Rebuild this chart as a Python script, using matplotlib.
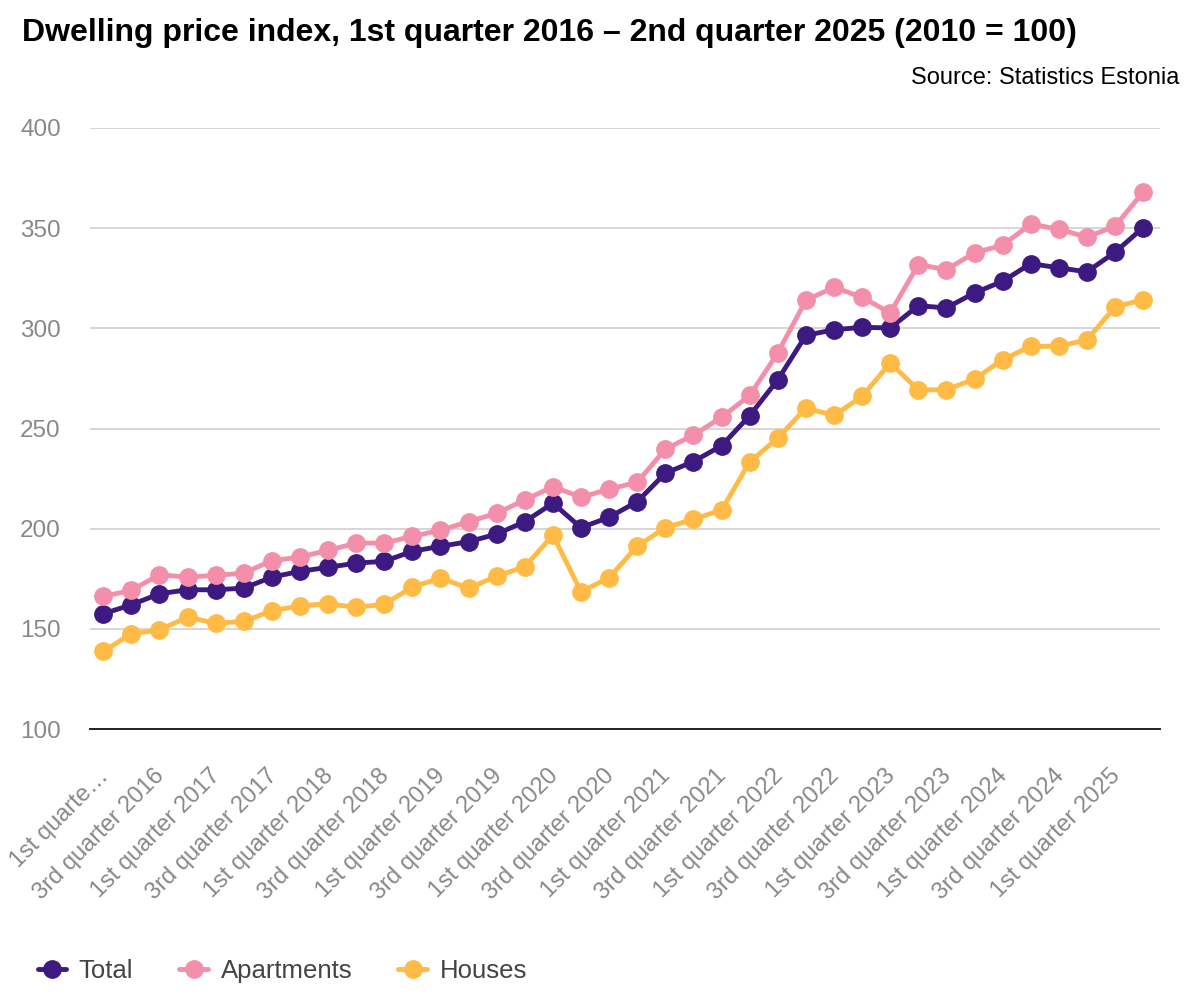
import matplotlib.pyplot as plt
import matplotlib.transforms as mtransforms
import numpy as np

plt.rcParams['font.family'] = ['Liberation Sans', 'DejaVu Sans']

ordinals = ["1st", "2nd", "3rd", "4th"]
quarters = [f"{o} quarter {y}" for y in range(2016, 2026) for o in ordinals][:38]

total = [157.5, 162, 167.5, 169.5, 169.5, 170.3, 175.8, 178.7, 180.7, 182.8,
         183.7, 188.7, 191.2, 193.5, 197.3, 203.5, 212.7, 200.5, 205.7, 213.5,
         227.7, 233.5, 241.4, 256.4, 274.3, 296.5, 299.3, 300.5, 300.2, 311.3,
         310.2, 317.7, 323.5, 332.3, 330.2, 328.2, 338, 350.3]
apartments = [166.2, 169.2, 177, 175.8, 176.7, 177.8, 184, 185.8, 189.2, 192.8,
              192.8, 196.2, 199.2, 203.5, 207.7, 214.3, 221, 215.7, 219.7, 223.2,
              239.7, 246.7, 255.6, 266.5, 287.7, 314, 320.5, 315.5, 307.7, 331.8,
              329.3, 337.7, 341.5, 352, 349.5, 345.5, 351, 368]
houses = [138.7, 147.5, 149.5, 155.8, 152.8, 153.7, 159, 161.5, 162.5, 160.7,
          162.3, 170.8, 175.4, 170.2, 176.3, 181, 196.8, 168.5, 175.5, 191.3,
          200.5, 204.7, 209.3, 233.3, 245.2, 260.2, 256.5, 266, 282.7, 269.3,
          269.3, 274.7, 284.3, 291, 291, 294.3, 310.7, 314.3]

series = [("Total", total, "#3d1a82"),
          ("Apartments", apartments, "#f48fab"),
          ("Houses", houses, "#ffbb45")]

fig = plt.figure(figsize=(12, 10), dpi=100)
ax = fig.add_axes([0.075, 0.271, 0.8917, 0.601])

x = np.arange(len(quarters))
for name, vals, col in series:
    ax.plot(x, vals, color=col, lw=3.5, marker="o", markersize=12.5, label=name,
            solid_capstyle="round", zorder=3)

ax.set_ylim(100, 400)
ax.set_xlim(-0.47, 37.6)
ax.set_yticks(range(100, 401, 50))
ax.grid(axis="y", color="#d6d6d6", lw=1.4, zorder=0)
for s in ["top", "right", "left"]:
    ax.spines[s].set_visible(False)
ax.spines["bottom"].set_color("#222222")
ax.spines["bottom"].set_linewidth(1.4)
ax.spines["bottom"].set_zorder(2)

ax.tick_params(axis="y", length=0, pad=21, labelsize=17.5, labelcolor="#888888")
ax.set_xticks(x[::2])
labels = quarters[::2]
labels[0] = "1st quarte…"
ax.set_xticklabels(labels, rotation=45, ha="right", rotation_mode="anchor",
                   fontsize=17, color="#888888")
ax.tick_params(axis="x", length=0, pad=26)
offset = mtransforms.ScaledTranslation(-6 / 100, 0, fig.dpi_scale_trans)
for lab in ax.get_xticklabels():
    lab.set_transform(lab.get_transform() + offset)

fig.text(0.018, 0.967, "Dwelling price index, 1st quarter 2016 – 2nd quarter 2025 (2010 = 100)",
         fontsize=23, fontweight="bold", va="center", ha="left", color="#000000")
fig.text(0.983, 0.922, "Source: Statistics Estonia", fontsize=17, va="center", ha="right",
         color="#000000")

fig.legend(loc="center left", bbox_to_anchor=(0.012, 0.029), ncol=3, frameon=False,
           fontsize=18.5, handlelength=1.1, columnspacing=1.8, handletextpad=0.5,
           labelcolor="#444444")

fig.savefig("out.png", dpi=100)
